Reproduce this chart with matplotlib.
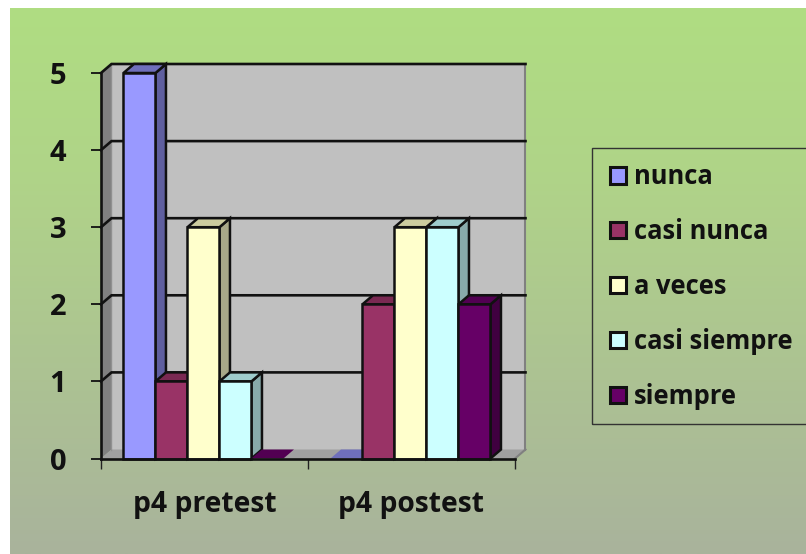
import numpy as np
import matplotlib
matplotlib.use("Agg")
import matplotlib.pyplot as plt
from matplotlib.patches import Patch, Rectangle

categories = ["p4 pretest", "p4 postest"]
series_names = ["nunca", "casi nunca", "a veces", "casi siempre", "siempre"]
nunca = [5, 0]
casi_nunca = [1, 2]
a_veces = [3, 3]
casi_siempre = [1, 3]
siempre = [0, 2]
y_ticks = [0, 1, 2, 3, 4, 5]

series_values = [nunca, casi_nunca, a_veces, casi_siempre, siempre]
front_colors = ["#9999FF", "#993366", "#FFFFCC", "#CCFFFF", "#660066"]
top_colors = ["#6F6FBB", "#7A2952", "#CCCC9F", "#9FCCCC", "#520052"]
side_colors = ["#5F5F9F", "#5F2040", "#A8A888", "#88AAAA", "#400040"]

W, H = 806, 554
plt.rcParams["font.family"] = ["Open Sans", "DejaVu Sans"]
fig = plt.figure(figsize=(W / 100, H / 100), dpi=100, facecolor="white")

# background gradient, starts a little in from the top left corner
bg = fig.add_axes([10 / W, 0, 1 - 10 / W, 1 - 8 / H], zorder=0)
bg.axis("off")
top_rgb = np.array([0xAF, 0xDD, 0x82]) / 255
mid_rgb = np.array([0xB0, 0xD4, 0x88]) / 255
bot_rgb = np.array([0xA9, 0xB3, 0x9C]) / 255
t = np.linspace(0, 1, 256)[:, None]
grad = np.where(t < 0.3, top_rgb + (mid_rgb - top_rgb) * t / 0.3,
                mid_rgb + (bot_rgb - mid_rgb) * (t - 0.3) / 0.7)
bg.imshow(grad[:, None, :], aspect="auto", interpolation="bilinear")

# front plane of the 3d box
left_px, right_px, top_px, bottom_px = 101, 515, 73, 458.5
ax = fig.add_axes([left_px / W, 1 - bottom_px / H, (right_px - left_px) / W, (bottom_px - top_px) / H], zorder=1)
ax.patch.set_visible(False)
ax.set_xlim(0, 2)
ax.set_ylim(0, 5)

# depth of the box in data units
dx = 10.5 / ((right_px - left_px) / 2)
dy = 9 / ((bottom_px - top_px) / 5)

# walls and floor
ax.fill([dx, 2 + dx, 2 + dx, dx], [dy, dy, 5 + dy, 5 + dy], color="#C0C0C0", clip_on=False, zorder=1, lw=0)
ax.fill([0, dx, dx, 0], [0, dy, 5 + dy, 5], color="#808080", clip_on=False, zorder=1, lw=0)
ax.fill([0, 2, 2 + dx, dx], [0, 0, dy, dy], color="#A0A0A0", clip_on=False, zorder=1, lw=0)
ax.plot([2 + dx, 2 + dx], [dy, 5 + dy], color="#808080", lw=1.5, clip_on=False, zorder=1.5)
ax.plot([2, 2 + dx], [0, dy], color="#808080", lw=1.5, clip_on=False, zorder=1.5)
ax.plot([dx, dx], [dy, 5 + dy], color="#909090", lw=1, clip_on=False, zorder=1.5)

# gridlines run along the side wall and the back wall
for v in y_ticks[1:]:
    ax.plot([0, dx, 2 + dx], [v, v + dy, v + dy], color="#111111", lw=1.9, clip_on=False, zorder=2,
            solid_joinstyle="miter")

bar_w = 32 / ((right_px - left_px) / 2)
z = 3
for c in range(len(categories)):
    for s in range(len(series_names)):
        val = series_values[s][c]
        x0 = c + 0.5 + (s - 2.5) * bar_w - 0.005
        x1 = x0 + bar_w
        if val > 0:
            # right side
            ax.fill([x1, x1 + dx, x1 + dx, x1], [0, dy, val + dy, val], facecolor=side_colors[s],
                    edgecolor="#111111", lw=1.8, clip_on=False, zorder=z, joinstyle="miter")
            ax.fill([x0, x1, x1 + dx, x0 + dx], [val, val, val + dy, val + dy], facecolor=top_colors[s],
                    edgecolor="#111111", lw=1.8, clip_on=False, zorder=z, joinstyle="miter")
            ax.bar(x0, val, width=bar_w, align="edge", color=front_colors[s], edgecolor="#111111",
                   lw=1.8, clip_on=False, zorder=z + 0.5)
        else:
            # empty category, only the floor face shows
            ax.fill([x0, x1, x1 + dx, x0 + dx], [0, 0, dy, dy], facecolor=top_colors[s],
                    edgecolor="none", clip_on=False, zorder=z)
        z += 1

for name in ["top", "right"]:
    ax.spines[name].set_visible(False)
for name in ["left", "bottom"]:
    ax.spines[name].set_linewidth(1.9)
    ax.spines[name].set_color("#111111")
    ax.spines[name].set_zorder(50)

ax.set_yticks(y_ticks)
ax.set_yticklabels([str(v) for v in y_ticks], fontsize=21, fontweight="bold", color="#111111")
ax.tick_params(axis="y", length=7, width=1.3, pad=18, color="#111111")
ax.set_xticks([0, 1, 2])
ax.set_xticklabels([])
ax.tick_params(axis="x", which="major", length=7.5, width=1, color="#222222")
ax.set_xticks([0.5, 1.5], minor=True)
ax.set_xticklabels(categories, minor=True, fontsize=20.3, fontweight="bold", color="#111111")
ax.tick_params(axis="x", which="minor", length=0, pad=22.5)

# legend box runs off the right edge of the picture, so it is drawn apart from the entries
fig.add_artist(Rectangle((592 / W, 1 - 424 / H), 260 / W, 276 / H, transform=fig.transFigure,
                         facecolor="none", edgecolor="#333333", lw=1.0, zorder=4))
handles = [Patch(facecolor=front_colors[i], edgecolor="#111111", lw=2.2) for i in range(len(series_names))]
leg = fig.legend(handles, series_names, loc="upper left",
                 bbox_to_anchor=(592 / W, 1 - 145 / H),
                 prop={"weight": "bold", "size": 18.4}, frameon=False,
                 handlelength=0.6, handleheight=0.6, handletextpad=0.32,
                 labelspacing=1.09, borderpad=0.72, borderaxespad=0, labelcolor="#111111")
leg.set_zorder(5)

fig.savefig("out.png", dpi=100)
